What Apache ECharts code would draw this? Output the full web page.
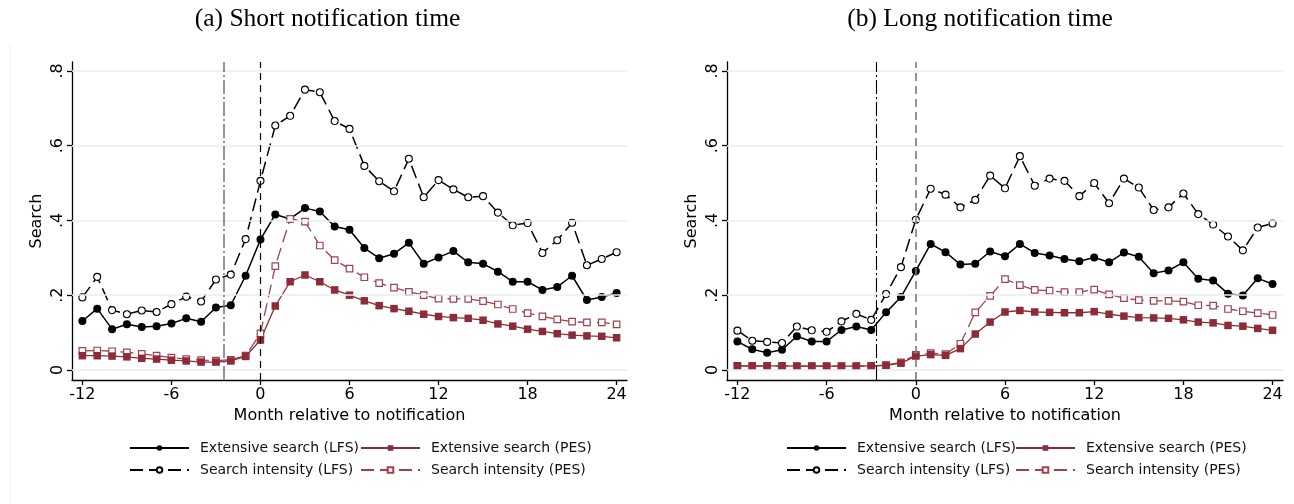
<!DOCTYPE html>
<html>
<head>
<meta charset="utf-8">
<script src="https://cdn.jsdelivr.net/npm/echarts@6/dist/echarts.min.js"></script>
<style>
  html, body { margin: 0; padding: 0; background: #fff; }
  #chart { width: 1294px; height: 504px; }
</style>
</head>
<body>
<div id="chart"></div>
<script>
// Months relative to notification
const months = [-12,-11,-10,-9,-8,-7,-6,-5,-4,-3,-2,-1,0,1,2,3,4,5,6,7,8,9,10,11,12,13,14,15,16,17,18,19,20,21,22,23,24];

// Panel (a): short notification time
const shortExtLFS = [0.131,0.164,0.109,0.122,0.115,0.117,0.124,0.138,0.129,0.167,0.173,0.252,
  0.349,0.416,0.404,0.433,0.424,0.384,0.375,
  0.326,0.299,0.311,0.340,0.284,0.301,0.318,0.288,0.284,0.263,0.236,0.236,0.214,0.222,0.252,0.187,0.195,0.206];
const shortIntLFS = [0.194,0.249,0.160,0.149,0.159,0.155,0.176,0.196,0.183,0.242,0.255,0.350,
  0.506,0.654,0.680,0.750,0.743,0.666,0.645,
  0.546,0.505,0.478,0.565,0.462,0.508,0.483,0.462,0.465,0.421,0.387,0.393,0.313,0.347,0.394,0.280,0.297,0.315];
const shortExtPES = [0.038,0.038,0.037,0.035,0.031,0.029,0.026,0.024,0.021,0.021,0.024,0.036,
  0.080,0.171,0.236,0.254,0.236,0.214,0.200,
  0.185,0.172,0.164,0.157,0.149,0.143,0.140,0.138,0.133,0.123,0.117,0.109,0.103,0.097,0.093,0.091,0.090,0.086];
const shortIntPES = [0.051,0.052,0.050,0.047,0.043,0.038,0.033,0.029,0.026,0.025,0.027,0.038,
  0.098,0.278,0.404,0.397,0.333,0.294,0.271,
  0.248,0.232,0.220,0.209,0.200,0.191,0.190,0.190,0.184,0.175,0.163,0.152,0.143,0.135,0.129,0.127,0.127,0.122];

// Panel (b): long notification time
const longExtLFS = [0.076,0.055,0.046,0.054,0.090,0.076,0.076,0.107,0.116,0.107,0.154,0.195,
  0.265,0.337,0.315,0.282,0.284,0.317,0.304,
  0.337,0.313,0.306,0.297,0.291,0.301,0.288,0.314,0.303,0.259,0.266,0.288,0.244,0.239,0.204,0.199,0.245,0.230];
const longIntLFS = [0.105,0.078,0.075,0.072,0.116,0.106,0.102,0.130,0.150,0.134,0.203,0.275,
  0.402,0.485,0.469,0.435,0.455,0.520,0.486,
  0.572,0.493,0.512,0.506,0.465,0.500,0.446,0.512,0.488,0.428,0.435,0.472,0.417,0.389,0.357,0.320,0.381,0.392];
const longExtPES = [0.011,0.011,0.011,0.011,0.010,0.010,0.010,0.010,0.010,0.011,0.012,0.018,
  0.037,0.041,0.039,0.057,0.096,0.128,0.155,
  0.159,0.155,0.154,0.153,0.153,0.156,0.149,0.144,0.140,0.139,0.138,0.134,0.128,0.126,0.119,0.117,0.111,0.106];
const longIntPES = [0.011,0.010,0.010,0.010,0.010,0.010,0.010,0.010,0.010,0.010,0.013,0.020,
  0.040,0.045,0.042,0.070,0.154,0.198,0.243,
  0.227,0.214,0.212,0.208,0.208,0.215,0.202,0.192,0.187,0.185,0.185,0.183,0.173,0.172,0.163,0.157,0.152,0.147];

// Axis ticks and reference lines
const xTicks = [-12, -6, 0, 6, 12, 18, 24];
const yTicks = [0, 0.2, 0.4, 0.6, 0.8];
const shortRefLines = [-2.45, 0];
const longRefLines = [-2.65, 0];

const panelTitles = ['(a) Short notification time', '(b) Long notification time'];
const seriesNames = ['Extensive search (LFS)', 'Search intensity (LFS)', 'Extensive search (PES)', 'Search intensity (PES)'];

const BLACK = '#000000';
const RED = '#8c2c38';
const RED_LIGHT = '#a0414d';
const SANS = 'DejaVu Sans';
const AXIS_FONT = 16;

const pair = arr => months.map((m, i) => [m, arr[i]]);

function xAxis(gi) {
  return {
    type: 'value', gridIndex: gi, min: -12.7, max: 24.7,
    axisLine: { show: true, onZero: false, lineStyle: { color: BLACK, width: 1.3 } },
    axisTick: { show: true, length: 5, customValues: xTicks, lineStyle: { color: BLACK, width: 1.3 } },
    axisLabel: { customValues: xTicks, color: BLACK, fontFamily: SANS, fontSize: AXIS_FONT, margin: 7 },
    splitLine: { show: false },
    name: 'Month relative to notification', nameLocation: 'middle', nameGap: 22,
    nameTextStyle: { color: BLACK, fontFamily: SANS, fontSize: AXIS_FONT }
  };
}
function yAxis(gi) {
  return {
    type: 'value', gridIndex: gi, min: -0.027, max: 0.824,
    axisLine: { show: true, onZero: false, lineStyle: { color: BLACK, width: 1.3 } },
    axisTick: { show: true, length: 5, customValues: yTicks, lineStyle: { color: BLACK, width: 1.3 } },
    axisLabel: {
      customValues: yTicks, rotate: 90, color: BLACK, fontFamily: SANS, fontSize: AXIS_FONT, margin: 6,
      formatter: v => (v === 0 ? '0' : String(v).replace(/^0\./, '.'))
    },
    splitLine: { show: false },
    name: 'Search', nameLocation: 'middle', nameRotate: 90, nameGap: 27,
    nameTextStyle: { color: BLACK, fontFamily: SANS, fontSize: AXIS_FONT }
  };
}

function guideSeries(gi, refLines, refStyles) {
  return [
    {
      // horizontal grid lines
      type: 'line', xAxisIndex: gi, yAxisIndex: gi, data: [], z: 1, silent: true,
      markLine: {
        silent: true, symbol: 'none', label: { show: false }, animation: false,
        lineStyle: { color: '#e6eef2', width: 1.5, type: 'solid' },
        data: yTicks.map(v => ({ yAxis: v }))
      }
    },
    {
      // vertical reference lines
      type: 'line', xAxisIndex: gi, yAxisIndex: gi, data: [], z: 2, silent: true,
      markLine: {
        silent: true, symbol: 'none', label: { show: false }, animation: false,
        data: refLines.map((v, i) => ({ xAxis: v, lineStyle: refStyles[i] }))
      }
    }
  ];
}

function dataSeries(gi, ext, intens, extP, intP) {
  const common = { type: 'line', xAxisIndex: gi, yAxisIndex: gi, showAllSymbol: true, animation: false, z: 3 };
  return [
    Object.assign({}, common, {
      name: seriesNames[0], data: pair(ext), symbol: 'circle', symbolSize: 8,
      itemStyle: { color: BLACK },
      lineStyle: { color: BLACK, width: 1.5, type: 'solid' }
    }),
    Object.assign({}, common, {
      name: seriesNames[1], data: pair(intens), symbol: 'circle', symbolSize: 7,
      itemStyle: { color: '#ffffff', borderColor: BLACK, borderWidth: 1.1 },
      lineStyle: { color: BLACK, width: 1.5, type: [13, 6] }
    }),
    Object.assign({}, common, {
      name: seriesNames[3], data: pair(intP), symbol: 'rect', symbolSize: 6.5,
      itemStyle: { color: '#ffffff', borderColor: RED_LIGHT, borderWidth: 1.2 },
      lineStyle: { color: RED_LIGHT, width: 1.3, type: [13, 6] }
    }),
    Object.assign({}, common, {
      name: seriesNames[2], data: pair(extP), symbol: 'rect', symbolSize: 7.5,
      itemStyle: { color: RED },
      lineStyle: { color: RED, width: 1.3, type: 'solid' }
    })
  ];
}

function legendCol(left, names) {
  return {
    orient: 'vertical', left: left, top: 436, itemWidth: 59, itemHeight: 7, itemGap: 8,
    data: names, selectedMode: false,
    textStyle: { color: '#111', fontFamily: SANS, fontSize: 14, padding: [0, 0, 0, 6] }
  };
}

const chart = echarts.init(document.getElementById('chart'), null, { renderer: 'canvas' });
chart.setOption({
  backgroundColor: '#ffffff',
  animation: false,
  graphic: [
    { type: 'text', x: 327.5, y: 19, style: { text: panelTitles[0], fill: '#000', font: '25.5px "Liberation Serif"', textAlign: 'center', textVerticalAlign: 'middle' } },
    { type: 'text', x: 980, y: 19, style: { text: panelTitles[1], fill: '#000', font: '25.5px "Liberation Serif"', textAlign: 'center', textVerticalAlign: 'middle' } },
    { type: 'line', shape: { x1: 10, y1: 45, x2: 10, y2: 504 }, style: { stroke: '#f0f0f0', lineWidth: 1 } }
  ],
  grid: [
    { left: 72, top: 62, width: 555, height: 318 },
    { left: 727, top: 62, width: 556, height: 318 }
  ],
  xAxis: [xAxis(0), xAxis(1)],
  yAxis: [yAxis(0), yAxis(1)],
  legend: [
    legendCol(124, [seriesNames[0], seriesNames[1]]),
    legendCol(355, [seriesNames[2], seriesNames[3]]),
    legendCol(781, [seriesNames[0], seriesNames[1]]),
    legendCol(1010, [seriesNames[2], seriesNames[3]])
  ],
  series: [].concat(
    guideSeries(0, shortRefLines, [
      { color: '#7a7a7a', width: 1.6, type: [14, 3, 2, 3] },
      { color: BLACK, width: 1.2, type: [7, 5] }
    ]),
    dataSeries(0, shortExtLFS, shortIntLFS, shortExtPES, shortIntPES),
    guideSeries(1, longRefLines, [
      { color: BLACK, width: 1.1, type: [14, 3, 2, 3] },
      { color: '#7a7a7a', width: 1.6, type: [8, 5] }
    ]),
    dataSeries(1, longExtLFS, longIntLFS, longExtPES, longIntPES)
  )
});
</script>
</body>
</html>
